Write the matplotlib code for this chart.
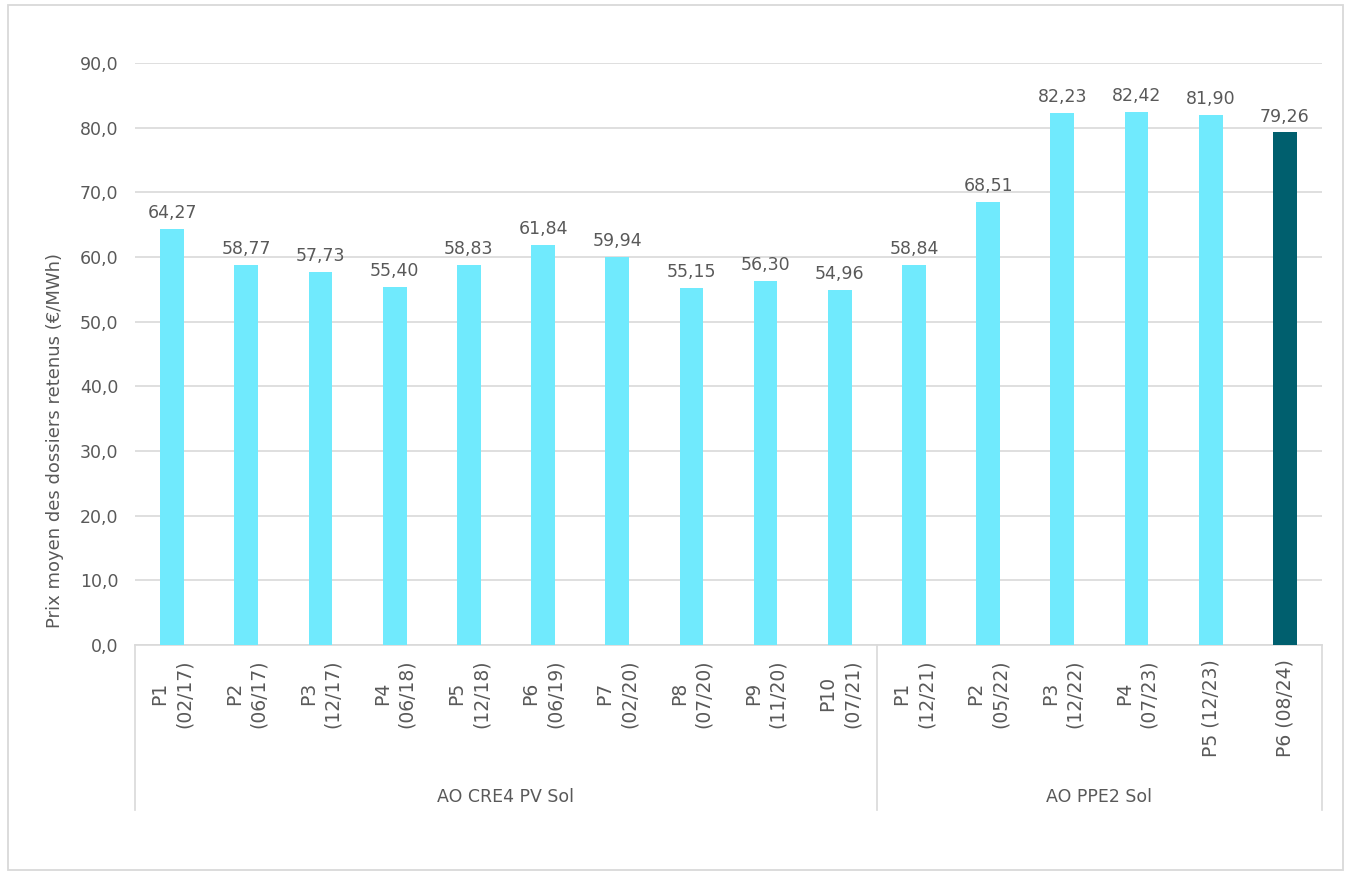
import matplotlib
matplotlib.use("Agg")
import matplotlib.pyplot as plt
from matplotlib.patches import Rectangle
from matplotlib.lines import Line2D

categories = ["P1\n(02/17)", "P2\n(06/17)", "P3\n(12/17)", "P4\n(06/18)", "P5\n(12/18)",
              "P6\n(06/19)", "P7\n(02/20)", "P8\n(07/20)", "P9\n(11/20)", "P10\n(07/21)",
              "P1\n(12/21)", "P2\n(05/22)", "P3\n(12/22)", "P4\n(07/23)", "P5 (12/23)", "P6 (08/24)"]
values = [64.27, 58.77, 57.73, 55.40, 58.83, 61.84, 59.94, 55.15, 56.30, 54.96,
          58.84, 68.51, 82.23, 82.42, 81.90, 79.26]
groups = ["AO CRE4 PV Sol", "AO PPE2 Sol"]
group_sizes = [10, 6]
yticks = [0, 10, 20, 30, 40, 50, 60, 70, 80, 90]

light = "#70EAFD"
dark = "#005F6E"
txt = "#595959"
grid = "#D9D9D9"
fs = 12.5

plt.rcParams['font.family'] = ['DejaVu Sans']

W, H = 1346, 872
fig = plt.figure(figsize=(W / 100, H / 100), dpi=100)
# outer frame
fig.patches.append(Rectangle((8 / W, 1 - 870 / H), (1343 - 8) / W, (870 - 5) / H, transform=fig.transFigure,
                             fill=False, edgecolor=grid, linewidth=1.3))

x0, x1, y0, y1 = 135, 1322, 645, 63
ph = y0 - y1
ax = fig.add_axes([x0 / W, 1 - y0 / H, (x1 - x0) / W, ph / H])
n = len(values)
xs = list(range(n))
colors = [light] * (n - 1) + [dark]
ax.bar(xs, values, width=0.32, color=colors, zorder=3)
ax.set_xlim(-0.5, n - 0.5)
ax.set_ylim(0, 90)
ax.set_yticks(yticks)
ax.set_yticklabels([f"{v:.1f}".replace(".", ",") for v in yticks], color=txt, fontsize=fs)
ax.tick_params(axis='y', length=0, pad=12)
ax.grid(axis='y', color=grid, linewidth=1.2, zorder=0)
for s in ["top", "right", "left"]:
    ax.spines[s].set_visible(False)
ax.spines["bottom"].set_color(grid)
ax.spines["bottom"].set_linewidth(1.2)
ax.set_xticks([])

fig.text(55 / W, 1 - 440 / H, "Prix moyen des dossiers retenus (€/MWh)", rotation=90,
         ha="center", va="center", color=txt, fontsize=13)

for x, v in zip(xs, values):
    ax.annotate(f"{v:.2f}".replace(".", ","), (x, v), xytext=(0, 5), textcoords="offset points",
                ha="center", va="bottom", color=txt, fontsize=fs)

# category labels
trans = ax.get_xaxis_transform()
for x, c in zip(xs, categories):
    ax.text(x, -14 / ph, c, rotation=90, ha="center", va="top", multialignment="center",
            transform=trans, color=txt, fontsize=13.5, linespacing=1.35)

# group separators and labels
ybot = -(810 - 645) / ph
start = -0.5
for g, size in zip(groups, group_sizes):
    end = start + size
    ax.add_line(Line2D([start, start], [0, ybot], transform=trans, color=grid, lw=1.2, clip_on=False))
    ax.text((start + end) / 2, -(797 - 645) / ph, g, ha="center", va="center",
            transform=trans, color=txt, fontsize=fs)
    start = end
ax.add_line(Line2D([start, start], [0, ybot], transform=trans, color=grid, lw=1.2, clip_on=False))

fig.savefig("out.png", dpi=100)
